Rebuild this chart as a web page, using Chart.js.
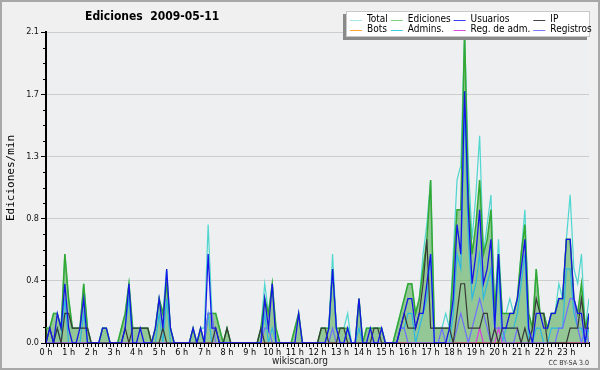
<!DOCTYPE html>
<html><head><meta charset="utf-8">
<script src="https://cdn.jsdelivr.net/npm/chart.js@4/dist/chart.umd.min.js"></script>
<style>html,body{margin:0;padding:0;background:#f0f0f0;}canvas{display:block;}</style>
</head><body>
<canvas id="c" width="600" height="370"></canvas>
<script>
// ---- data (edits per minute, one value per 10 minutes, 0:00 .. 24:00) ----
const chartTitle = 'Ediciones  2009-05-11';
const yAxisTitle = 'Ediciones/min';
const hourLabels = ['0 h','1 h','2 h','3 h','4 h','5 h','6 h','7 h','8 h','9 h','10 h','11 h',
  '12 h','13 h','14 h','15 h','16 h','17 h','18 h','19 h','20 h','21 h','22 h','23 h'];
const yTickValues = [0, 0.42, 0.84, 1.26, 1.68, 2.1];
const yTickLabels = ['0.0','0.4','0.8','1.3','1.7','2.1'];
const seriesNames = ['Total','Ediciones','Usuarios','IP','Bots','Admins.','Reg. de adm.','Registros'];

const total = [
0.1,0.1,0.2,0.2,0.1,0.6, 0.3,0.1,0.1,0.1,0.4,0.1, 0,0,0,0.1,0.1,0, 0,0,0.1,0.2,0.4,0.1,
0.1,0.1,0.1,0.1,0,0.1, 0.3,0.2,0.5,0.1,0,0, 0,0,0,0.1,0,0.1, 0.1,0.8,0.2,0.2,0.1,0,
0.1,0,0,0,0,0, 0,0,0,0.1,0.4,0.2, 0.4,0.1,0,0,0,0, 0.1,0.2,0,0,0,0,
0,0.1,0.1,0.1,0.6,0.1, 0.1,0.1,0.2,0,0,0.3, 0,0.1,0.1,0.1,0.1,0.1, 0,0,0,0.1,0.2,0.3,
0.4,0.4,0.2,0.3,0.6,0.8, 1.1,0.1,0.1,0.1,0.2,0.1, 0.6,1.1,1.2,2.1,1.2,0.7, 1.0,1.4,0.6,0.8,1.0,0.2,
0.7,0.2,0.2,0.3,0.2,0.3, 0.6,0.9,0.2,0.1,0.5,0.2, 0.2,0.1,0.2,0.2,0.4,0.3, 0.7,1.0,0.5,0.4,0.6,0.1,
0.3];
const ediciones = [
0.1,0.1,0.2,0.2,0.1,0.6, 0.3,0.1,0.1,0.1,0.4,0.1, 0,0,0,0.1,0.1,0, 0,0,0.1,0.2,0.4,0.1,
0.1,0.1,0.1,0.1,0,0.1, 0.3,0.2,0.4,0.1,0,0, 0,0,0,0.1,0,0.1, 0,0.2,0.2,0.2,0.1,0,
0.1,0,0,0,0,0, 0,0,0,0.1,0.3,0.2, 0.4,0.1,0,0,0,0, 0.1,0.2,0,0,0,0,
0,0.1,0.1,0.1,0.5,0.1, 0.1,0.1,0.1,0,0,0.3, 0,0.1,0.1,0.1,0.1,0.1, 0,0,0,0.1,0.2,0.3,
0.4,0.4,0.2,0.3,0.5,0.7, 1.1,0.1,0.1,0.1,0.1,0.1, 0.5,0.9,0.9,2.1,1.0,0.6, 0.8,1.1,0.6,0.7,0.9,0.2,
0.6,0.2,0.2,0.2,0.2,0.3, 0.6,0.8,0.2,0.1,0.5,0.2, 0.2,0.1,0.2,0.2,0.3,0.3, 0.7,0.7,0.3,0.2,0.4,0.1,
0.2];
const usuarios = [
0,0.1,0,0.2,0.1,0.4, 0.1,0,0,0.1,0.3,0, 0,0,0,0.1,0.1,0, 0,0,0,0.1,0.4,0,
0,0.1,0,0,0,0.1, 0.3,0.1,0.5,0.1,0,0, 0,0,0,0.1,0,0.1, 0,0.6,0.1,0.1,0,0,
0,0,0,0,0,0, 0,0,0,0,0.3,0.1, 0.4,0,0,0,0,0, 0,0.2,0,0,0,0,
0,0,0,0.1,0.5,0.1, 0,0,0.1,0,0,0.3, 0,0,0.1,0,0,0.1, 0,0,0,0,0.1,0.2,
0.3,0.3,0.1,0.2,0.2,0.4, 0.6,0,0,0,0,0.1, 0.3,0.8,0.6,1.7,0.9,0.4, 0.6,0.9,0.4,0.5,0.7,0.1,
0.6,0.1,0.1,0.2,0.2,0.3, 0.5,0.7,0.1,0,0.2,0.2, 0.1,0.1,0.2,0.2,0.3,0.3, 0.7,0.7,0.3,0.2,0.2,0,
0.2];
const ip = [
0,0.1,0,0.1,0,0.2, 0.2,0.1,0.1,0.1,0.1,0.1, 0,0,0,0,0,0, 0,0,0,0.1,0,0.1,
0.1,0.1,0.1,0.1,0,0, 0,0.1,0,0,0,0, 0,0,0,0,0,0, 0,0,0,0.1,0,0,
0.1,0,0,0,0,0, 0,0,0,0.1,0,0, 0,0,0,0,0,0, 0,0,0,0,0,0,
0,0.1,0.1,0,0,0, 0.1,0.1,0,0,0,0, 0,0,0,0.1,0.1,0, 0,0,0,0,0.1,0.2,
0.1,0.1,0.1,0.2,0.4,0.7, 0.1,0.1,0.1,0.1,0.1,0.1, 0,0.2,0.4,0.4,0.1,0.1, 0.1,0.1,0.2,0.2,0,0.1,
0,0.1,0.1,0.1,0.1,0.1, 0,0.1,0,0.1,0.3,0.2, 0.2,0,0,0,0,0, 0,0.1,0.1,0.1,0.3,0.1,
0.1];
const bots = [
0,0,0,0,0,0, 0,0,0,0,0,0, 0,0,0,0,0,0, 0,0,0,0,0,0,
0,0,0,0,0,0, 0,0,0,0,0,0, 0,0,0,0,0,0, 0,0,0,0,0,0,
0,0,0,0,0,0, 0,0,0,0,0,0, 0,0,0,0,0,0, 0,0,0,0,0,0,
0,0,0,0,0,0, 0,0,0,0,0,0, 0,0,0,0,0,0, 0,0,0,0,0,0,
0,0,0,0,0,0, 0,0,0,0,0,0, 0,0,0,0,0,0, 0,0,0,0,0,0,
0,0,0,0,0,0, 0,0,0,0,0,0, 0,0,0,0,0,0, 0,0,0,0,0,0,
0];
const admins = [
0,0,0,0.1,0,0.3, 0,0,0,0,0.2,0, 0,0,0,0,0,0, 0,0,0,0.1,0.3,0,
0,0,0,0,0,0, 0.2,0,0.3,0,0,0, 0,0,0,0,0,0, 0,0.2,0,0,0,0,
0,0,0,0,0,0, 0,0,0,0,0.2,0, 0.1,0,0,0,0,0, 0,0,0,0,0,0,
0,0,0,0.1,0.5,0.1, 0,0,0.1,0,0,0.1, 0,0,0,0,0,0, 0,0,0,0,0.1,0.1,
0.2,0.2,0,0.1,0.2,0.3, 0.6,0,0,0,0,0, 0.2,0.6,0.5,1.6,0.7,0.3, 0.4,0.6,0.3,0.4,0.5,0.1,
0.5,0,0.1,0.1,0.1,0.2, 0.4,0.6,0,0,0.1,0.1, 0,0,0.1,0.1,0.1,0.1, 0.5,0.5,0.2,0.1,0.1,0,
0.1];
const regAdm = [
0,0,0,0,0,0, 0,0,0,0,0,0, 0,0,0,0,0,0, 0,0,0,0,0,0,
0,0,0,0,0,0, 0,0,0,0,0,0, 0,0,0,0,0,0, 0,0,0,0,0,0,
0,0,0,0,0,0, 0,0,0,0,0,0, 0,0,0,0,0,0, 0,0,0,0,0,0,
0,0,0,0,0,0, 0,0,0,0,0,0, 0,0,0,0,0,0, 0,0,0,0,0,0,
0,0,0,0,0,0, 0,0,0,0,0,0, 0,0,0,0,0,0, 0,0.1,0,0,0,0,
0.1,0,0,0,0,0, 0,0,0,0,0,0, 0,0,0,0,0,0, 0,0,0,0,0,0,
0];
const registros = [
0,0,0,0,0,0, 0,0,0,0,0,0, 0,0,0,0,0,0, 0,0,0,0,0,0,
0,0,0,0,0,0, 0,0,0,0,0,0, 0,0,0,0,0,0, 0,0.2,0.2,0,0,0,
0,0,0,0,0,0, 0,0,0,0,0.1,0.1, 0,0,0,0,0,0, 0,0,0,0,0,0,
0,0,0,0,0.1,0, 0,0,0,0,0,0, 0,0,0,0,0,0, 0,0,0,0,0.1,0.1,
0,0,0,0,0,0, 0,0,0,0.1,0,0, 0,0.1,0.2,0.1,0,0.1, 0.2,0.3,0.2,0.1,0,0.1,
0.1,0.1,0,0,0,0.1, 0,0,0,0,0,0, 0,0,0,0,0.1,0.1, 0.2,0.3,0.3,0.1,0,0.1,
0];

const seriesValues = [total, ediciones, usuarios, ip, bots, admins, regAdm, registros];
const STEPS_PER_HOUR = 6;

// ---- styles ----
const FONT = "'DejaVu Sans Condensed', 'DejaVu Sans', sans-serif";
const styles = [
  {color:'#4fd6cf', legend:'#a6e8e8', width:1.2, order:8},
  {color:'#33a833', legend:'#7ccf7c', width:1.5, order:7, fill:true, bg:'rgba(58,160,58,0.50)'},
  {color:'#1515e8', legend:'#3a3af0', width:1.3, order:1},
  {color:'#383838', legend:'#444444', width:1.2, order:2},
  {color:'#ff9a2a', legend:'#ffa53a', width:1.2, order:6},
  {color:'#2db8e0', legend:'#3ccfe4', width:1.2, order:5},
  {color:'#dd3fdd', legend:'#e04be0', width:1.2, order:4},
  {color:'#6e6eff', legend:'#7777ff', width:1.2, order:3}
];

const datasets = seriesNames.map((name, k) => ({
  label: name,
  data: seriesValues[k].map((v, i) => ({x: i / STEPS_PER_HOUR, y: v})),
  borderColor: styles[k].color,
  backgroundColor: styles[k].bg || styles[k].color,
  borderWidth: styles[k].width,
  fill: styles[k].fill ? 'origin' : false,
  order: styles[k].order,
  legendColor: styles[k].legend,
  pointRadius: 0,
  tension: 0
}));

const decor = {
  id: 'decor',
  beforeDraw(chart) {
    const {ctx, chartArea: a, width, height} = chart;
    ctx.save();
    ctx.fillStyle = '#f0f0f0';
    ctx.fillRect(0, 0, width, height);
    ctx.fillStyle = '#edeff1';
    ctx.fillRect(a.left, a.top, a.right - a.left, a.bottom - a.top);
    ctx.restore();
  },
  afterDraw(chart) {
    const {ctx, chartArea: a, width, height} = chart;
    const ys = chart.scales.y;
    ctx.save();
    // minor y ticks
    ctx.strokeStyle = '#000'; ctx.lineWidth = 1;
    for (let k = 0; k < yTickValues.length - 1; k++) {
      for (let q = 1; q < 4; q++) {
        const v = yTickValues[k] + (yTickValues[k+1] - yTickValues[k]) * q / 4;
        const py = Math.round(ys.getPixelForValue(v)) + 0.5;
        ctx.beginPath(); ctx.moveTo(a.left - 3, py); ctx.lineTo(a.left, py); ctx.stroke();
      }
    }
    // frame
    ctx.strokeStyle = '#a8a8a8'; ctx.lineWidth = 2;
    ctx.strokeRect(1, 1, width - 2, height - 2);
    // title
    ctx.fillStyle = '#000';
    ctx.font = "bold 12px " + FONT;
    ctx.textBaseline = 'middle'; ctx.textAlign = 'left';
    ctx.fillText(chartTitle, 85, 17);
    // y axis title
    ctx.save();
    ctx.translate(11, 178); ctx.rotate(-Math.PI / 2);
    ctx.font = "11px 'DejaVu Sans Mono', monospace";
    ctx.textAlign = 'center';
    ctx.fillText(yAxisTitle, 0, 0);
    ctx.restore();
    // footer
    ctx.font = "10px " + FONT; ctx.textAlign = 'center'; ctx.fillStyle = '#222';
    ctx.fillText('wikiscan.org', 300, 361);
    ctx.font = "7px " + FONT; ctx.textAlign = 'right'; ctx.fillStyle = '#333';
    ctx.fillText('CC BY-SA 3.0', 589, 363);
    // legend box
    const bx = 346, by = 11, bw = 244, bh = 26;
    ctx.fillStyle = '#8a8a8a';
    ctx.fillRect(bx - 3, by + 3, bw, bh);
    ctx.fillStyle = '#ffffff';
    ctx.fillRect(bx, by, bw, bh);
    ctx.strokeStyle = '#c8c8c8'; ctx.lineWidth = 1;
    ctx.strokeRect(bx + 0.5, by + 0.5, bw - 1, bh - 1);
    ctx.font = "10px " + FONT; ctx.textAlign = 'left'; ctx.textBaseline = 'middle';
    const ds = chart.data.datasets;
    const cols = 4, sw = 12, gap = 5, colGap = 3;
    let x = bx + 4;
    for (let c = 0; c < cols; c++) {
      let maxW = 0;
      for (let r = 0; r < 2; r++) {
        const d = ds[r * cols + c];
        const yy = by + 8.5 + r * 10;
        ctx.strokeStyle = d.legendColor; ctx.lineWidth = 1;
        ctx.beginPath(); ctx.moveTo(x, Math.round(yy) + 0.5); ctx.lineTo(x + sw, Math.round(yy) + 0.5); ctx.stroke();
        ctx.fillStyle = '#000';
        ctx.fillText(d.label, x + sw + gap, yy);
        maxW = Math.max(maxW, ctx.measureText(d.label).width);
      }
      x += sw + gap + maxW + colGap;
    }
    ctx.restore();
  }
};

new Chart(document.getElementById('c'), {
  type: 'line',
  data: { datasets },
  options: {
    responsive: false,
    devicePixelRatio: 1,
    animation: false,
    events: [],
    layout: { padding: { top: 32, right: 11, left: 0, bottom: 0 } },
    plugins: { legend: { display: false }, tooltip: { enabled: false }, title: { display: false } },
    scales: {
      x: {
        type: 'linear', min: 0, max: 24, z: 1,
        afterFit(s) { s.height = 27; },
        afterBuildTicks(s) {
          const t = [];
          for (let i = 0; i <= 24 * STEPS_PER_HOUR; i++) t.push({value: i / STEPS_PER_HOUR});
          s.ticks = t;
        },
        ticks: {
          autoSkip: false, maxRotation: 0, padding: 0, color: '#000',
          font: { family: FONT, size: 9 },
          callback(v) {
            const step = Math.round(v * STEPS_PER_HOUR);
            if (step % STEPS_PER_HOUR !== 0) return '';
            return hourLabels[step / STEPS_PER_HOUR] || '';
          }
        },
        grid: { drawOnChartArea: false, tickLength: 4, tickColor: '#000', tickWidth: 1 },
        border: { color: '#000', width: 2 }
      },
      y: {
        min: 0, max: 2.1,
        afterFit(s) { s.width = 46; },
        afterBuildTicks(s) { s.ticks = yTickValues.map(v => ({value: v})); },
        ticks: {
          padding: 2, color: '#111',
          font: { family: FONT, size: 9 },
          callback(v, i) { return yTickLabels[i]; }
        },
        grid: {
          color: (c) => (c.tick && c.tick.value > 0) ? '#cdcdcd' : 'rgba(0,0,0,0)',
          lineWidth: 1, tickLength: 5, tickColor: '#000'
        },
        border: { color: '#000', width: 2 }
      }
    }
  },
  plugins: [decor]
});
</script>
</body></html>
